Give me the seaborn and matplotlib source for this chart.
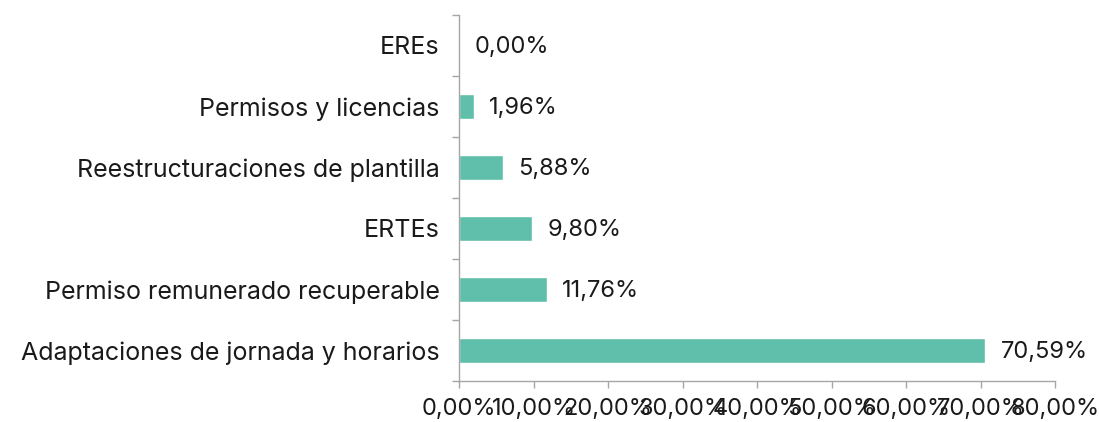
import matplotlib
matplotlib.use("Agg")
import matplotlib.pyplot as plt
import seaborn as sns
import pandas as pd
import numpy as np

# Data
categories = [
    "EREs",
    "Permisos y licencias",
    "Reestructuraciones de plantilla",
    "ERTEs",
    "Permiso remunerado recuperable",
    "Adaptaciones de jornada y horarios",
]
values = [0.00, 1.96, 5.88, 9.80, 11.76, 70.59]
x_ticks = [0, 10, 20, 30, 40, 50, 60, 70, 80]

bar_color = "#5fbfaa"
axis_color = "#a6a6a6"
text_color = "#1a1a1a"

sns.set_style("white")
plt.rcParams["font.family"] = ["Inter", "DejaVu Sans"]

df = pd.DataFrame({"categoria": categories, "valor": values})

fig = plt.figure(figsize=(11, 4.22), dpi=100)
ax = fig.add_axes([0.4173, 0.0972, 0.5418, 0.8673])

sns.barplot(data=df, x="valor", y="categoria", orient="h", color=bar_color,
            width=0.42, ax=ax, saturation=1)

def fmt(v):
    return f"{v:.2f}".replace(".", ",") + "%"

fs = 17
for i, v in enumerate(values):
    ax.text(v + 2.1, i + 0.03, fmt(v), va="center", ha="left", fontsize=fs, color=text_color)

ax.set_xlim(0, 80)
ax.set_ylim(5.5, -0.5)
ax.set_xticks(x_ticks)
ax.set_xticklabels([fmt(t) for t in x_ticks], fontsize=fs, color=text_color)
ax.set_xlabel("")
ax.set_ylabel("")
ax.tick_params(axis="y", which="major", left=False, length=0, pad=14,
               labelsize=18, labelcolor=text_color)
ax.set_yticks(np.arange(-0.5, 6, 1), minor=True)
ax.tick_params(axis="y", which="minor", left=True, length=5, color=axis_color, width=1)
ax.tick_params(axis="x", bottom=True, length=5, color=axis_color, width=1, pad=7)

for side in ["top", "right"]:
    ax.spines[side].set_visible(False)
for side in ["left", "bottom"]:
    ax.spines[side].set_color(axis_color)
    ax.spines[side].set_linewidth(1)

fig.savefig("out.png", dpi=100)
